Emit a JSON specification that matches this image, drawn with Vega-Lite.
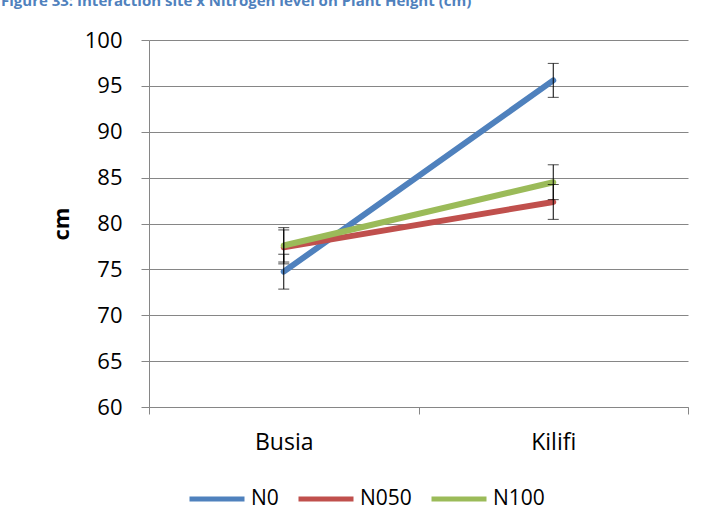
{
  "$schema": "https://vega.github.io/schema/vega-lite/v6.json",
  "width": 539,
  "height": 367,
  "autosize": {"type": "none"},
  "padding": {"left": 149, "top": 40, "right": 21, "bottom": 121},
  "background": "white",
  "title": {
    "text": "Figure 33: Interaction site x Nitrogen level on Plant Height (cm)",
    "anchor": "start",
    "frame": "group",
    "orient": "top",
    "baseline": "alphabetic",
    "offset": 8,
    "dx": -148,
    "font": "Open Sans",
    "fontSize": 15,
    "fontWeight": "bold",
    "color": "#4F81BD"
  },
  "data": {
    "values": [
      {"site": "Busia", "level": "N0", "height": 74.75, "lo": 72.85, "hi": 76.65},
      {"site": "Busia", "level": "N050", "height": 77.4, "lo": 75.8, "hi": 79.3},
      {"site": "Busia", "level": "N100", "height": 77.6, "lo": 75.6, "hi": 79.55},
      {"site": "Kilifi", "level": "N0", "height": 95.6, "lo": 93.75, "hi": 97.45},
      {"site": "Kilifi", "level": "N050", "height": 82.35, "lo": 80.45, "hi": 84.25},
      {"site": "Kilifi", "level": "N100", "height": 84.5, "lo": 82.6, "hi": 86.4}
    ]
  },
  "config": {
    "view": {"stroke": null},
    "font": "Open Sans",
    "axis": {
      "labelFont": "Open Sans",
      "labelFontSize": 22,
      "labelColor": "#000000",
      "domainColor": "#868686",
      "tickColor": "#868686",
      "gridColor": "#868686",
      "domainWidth": 1,
      "tickWidth": 1,
      "gridWidth": 1
    }
  },
  "encoding": {
    "x": {
      "field": "site",
      "type": "nominal",
      "scale": {"type": "band", "paddingInner": 0, "paddingOuter": 0},
      "axis": {
        "title": null,
        "labelAngle": 0,
        "labelFontSize": 23,
        "tickBand": "extent",
        "tickSize": 7,
        "labelPadding": 17,
        "grid": false
      }
    }
  },
  "layer": [
    {
      "mark": {"type": "line", "strokeWidth": 6, "strokeCap": "round"},
      "encoding": {
        "y": {
          "field": "height",
          "type": "quantitative",
          "scale": {"domain": [60, 100], "nice": false, "zero": false},
          "axis": {
            "title": "cm",
            "titleFont": "Open Sans",
            "titleFontSize": 22,
            "titleFontWeight": "bold",
            "titleColor": "#000000",
            "titlePadding": 11,
            "values": [60, 65, 70, 75, 80, 85, 90, 95, 100],
            "tickSize": 8,
            "labelPadding": 19,
            "grid": true
          }
        },
        "color": {
          "field": "level",
          "type": "nominal",
          "scale": {"domain": ["N0", "N050", "N100"], "range": ["#4F81BD", "#C0504D", "#9BBB59"]},
          "legend": {
            "title": null,
            "orient": "none",
            "direction": "horizontal",
            "legendX": 38,
            "legendY": 429,
            "symbolType": "stroke",
            "symbolSize": 3025,
            "symbolStrokeWidth": 5,
            "labelFont": "Open Sans",
            "labelFontSize": 21,
            "labelColor": "#000000",
            "labelOffset": 4,
            "columnPadding": 9
          }
        }
      }
    },
    {
      "mark": {"type": "rule", "color": "#000000", "strokeWidth": 1},
      "encoding": {
        "y": {"field": "lo", "type": "quantitative"},
        "y2": {"field": "hi"}
      }
    },
    {
      "mark": {"type": "tick", "color": "#000000", "thickness": 1, "size": 11, "orient": "horizontal"},
      "encoding": {"y": {"field": "lo", "type": "quantitative"}}
    },
    {
      "mark": {"type": "tick", "color": "#000000", "thickness": 1, "size": 11, "orient": "horizontal"},
      "encoding": {"y": {"field": "hi", "type": "quantitative"}}
    }
  ]
}
